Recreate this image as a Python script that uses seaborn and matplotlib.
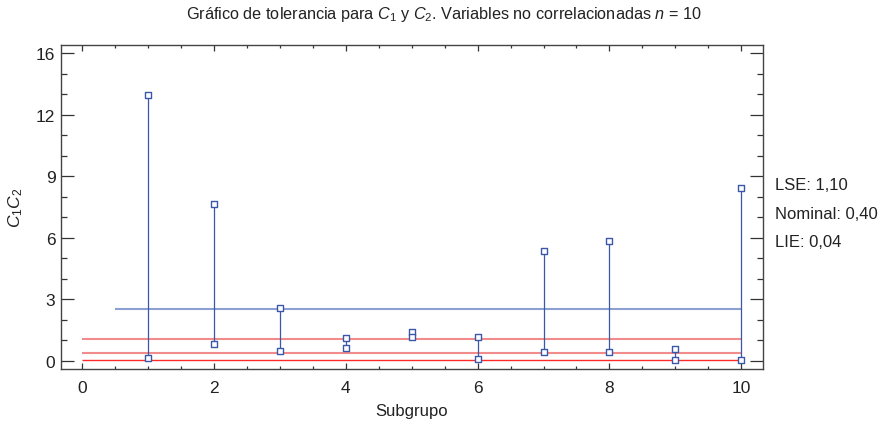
import matplotlib
matplotlib.use("Agg")
import matplotlib.pyplot as plt
import seaborn as sns
import numpy as np
import pandas as pd
from matplotlib.ticker import FixedLocator, MultipleLocator

# ---- data ----
subgrupo = [1, 2, 3, 4, 5, 6, 7, 8, 9, 10]
c_max = [13.82, 8.16, 2.72, 1.15, 1.47, 1.23, 5.70, 6.22, 0.58, 8.97]
c_min = [0.12, 0.85, 0.49, 0.63, 1.23, 0.06, 0.42, 0.42, 0.04, 0.04]
linea_central = 2.70
lse = 1.10
nominal = 0.40
lie = 0.04
ytick_vals = [0, 3.2, 6.4, 9.6, 12.8, 16]
ytick_labels = ["0", "3", "6", "9", "12", "16"]
xtick_vals = [0, 2, 4, 6, 8, 10]

sns.set_style("ticks")
plt.rcParams["font.family"] = ["Liberation Sans", "DejaVu Sans"]
plt.rcParams["mathtext.fontset"] = "custom"
plt.rcParams["mathtext.rm"] = "Liberation Sans"
plt.rcParams["mathtext.it"] = "Liberation Sans:italic"

fig = plt.figure(figsize=(8.88, 4.35), dpi=100)
ax = fig.add_axes([61/888, 1-370/435, 702/888, 324/435])

blue = "#3b57a8"
ax.vlines(subgrupo, c_min, c_max, color=blue, lw=0.9, zorder=3)
ax.hlines(linea_central, 0.5, 10, color="#8da0d2", lw=1.5, zorder=2)
ax.hlines([lse, nominal], 0, 10, color="#f28b8b", lw=1.5, zorder=2)
ax.hlines(lie, 0, 10, color="#ff2a2a", lw=1.0, zorder=2)

df = pd.DataFrame({"Subgrupo": subgrupo * 2, "v": c_max + c_min})
sns.scatterplot(data=df, x="Subgrupo", y="v", ax=ax, marker="s", s=19,
                facecolor="white", edgecolor=blue, linewidth=1.0, zorder=4,
                legend=False)

ax.set_xlim(-0.32, 10.33)
ax.set_ylim(-0.44, 16.43)
ax.xaxis.set_major_locator(FixedLocator(xtick_vals))
ax.xaxis.set_minor_locator(MultipleLocator(0.5))
ax.yaxis.set_major_locator(FixedLocator(ytick_vals))
ax.set_yticklabels(ytick_labels)
ax.yaxis.set_minor_locator(MultipleLocator(3.2/3))

for s in ax.spines.values():
    s.set_visible(True)
    s.set_color("#444444")
    s.set_linewidth(1.0)

ax.tick_params(axis="both", which="both", direction="in", top=True, right=True,
               color="#333333", width=0.9, labelsize=12.5, labelcolor="#222222")
ax.tick_params(axis="x", which="major", length=4.3, pad=8)
ax.tick_params(axis="x", which="minor", length=2.2)
ax.tick_params(axis="y", which="major", length=9.4, pad=4)
ax.tick_params(axis="y", which="minor", length=4.6)

ax.set_xlabel("Subgrupo", fontsize=12, color="#222222", labelpad=6)
ax.set_ylabel("$C_1C_2$", fontsize=12.5, color="#222222", labelpad=8)

fig.text(0.5, 1-14/435,
         "Gráfico de tolerancia para $C_1$ y $C_2$. Variables no correlacionadas $n$ = 10",
         ha="center", va="center", fontsize=11.7, color="#222222")

fig.text(775/888, 1-186/435, f"LSE: {lse:.2f}".replace(".", ","), ha="left", va="center",
         fontsize=12, color="#222222")
fig.text(775/888, 1-215/435, f"Nominal: {nominal:.2f}".replace(".", ","), ha="left", va="center",
         fontsize=12, color="#222222")
fig.text(775/888, 1-243/435, f"LIE: {lie:.2f}".replace(".", ","), ha="left", va="center",
         fontsize=12, color="#222222")

fig.savefig("out.png", dpi=100)
